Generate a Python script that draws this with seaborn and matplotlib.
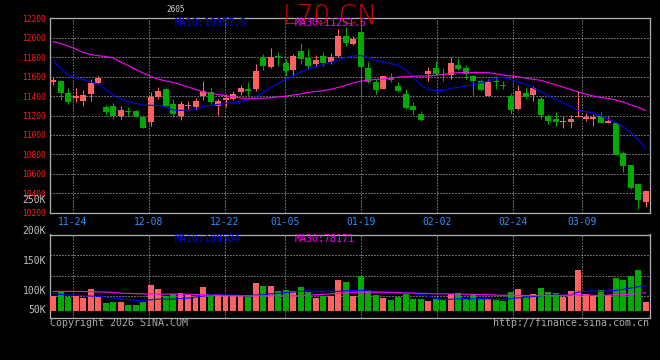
import matplotlib
matplotlib.use("Agg")
import matplotlib.pyplot as plt
import seaborn as sns
import numpy as np
import pandas as pd

# ---------------- data ----------------
tick_labels = ['11-24', '12-08', '12-22', '01-05', '01-19', '02-02', '02-24', '03-09']
tick_index = [3, 13, 23, 31, 41, 51, 61, 70]

opens = [11545, 11550, 11432, 11385, 11345, 11425, 11538, 11290, 11300, 11190,
         11245, 11245, 11180, 11130, 11388, 11470, 11320, 11190, 11300, 11292,
         11405, 11445, 11300, 11360, 11365, 11440, 11470, 11475, 11805, 11703,
         11815, 11745, 11668, 11865, 11795, 11732, 11808, 11748, 11812, 12018,
         11933, 12056, 11686, 11545, 11475, 11583, 11507, 11425, 11300, 11215,
         11628, 11690, 11620, 11617, 11720, 11692, 11607, 11555, 11400, 11560,
         11515, 11400, 11264, 11435, 11411, 11370, 11195, 11160, 11128, 11128,
         11183, 11165, 11162, 11195, 11127, 11120, 10817, 10690, 10495, 10313]
highs = [11600, 11565, 11480, 11480, 11460, 11575, 11605, 11310, 11330, 11300,
         11285, 11255, 11205, 11445, 11490, 11478, 11367, 11350, 11350, 11378,
         11555, 11480, 11365, 11425, 11450, 11510, 11548, 11725, 11835, 11890,
         11850, 11780, 11830, 11943, 11885, 11823, 11850, 11846, 12085, 12115,
         12020, 12130, 11748, 11580, 11610, 11640, 11540, 11472, 11336, 11246,
         11696, 11764, 11690, 11800, 11795, 11715, 11612, 11576, 11573, 11607,
         11560, 11430, 11515, 11480, 11505, 11402, 11216, 11233, 11195, 11205,
         11450, 11230, 11212, 11240, 11188, 11136, 10838, 10692, 10500, 10430]
lows = [11515, 11360, 11320, 11340, 11295, 11345, 11520, 11205, 11165, 11165,
        11200, 11180, 11070, 11095, 11368, 11290, 11185, 11150, 11260, 11260,
        11360, 11315, 11210, 11290, 11360, 11415, 11400, 11455, 11665, 11685,
        11710, 11605, 11617, 11730, 11685, 11713, 11713, 11727, 11805, 11920,
        11930, 11394, 11530, 11425, 11470, 11540, 11437, 11270, 11216, 11145,
        11558, 11620, 11555, 11576, 11670, 11580, 11411, 11455, 11400, 11473,
        11470, 11216, 11255, 11370, 11353, 11165, 11112, 11092, 11075, 11075,
        11180, 11143, 11095, 11120, 11120, 10790, 10622, 10440, 10240, 10262]
closes = [11565, 11435, 11340, 11400, 11410, 11535, 11590, 11238, 11195, 11255,
          11232, 11200, 11075, 11394, 11452, 11300, 11215, 11315, 11310, 11352,
          11455, 11340, 11345, 11375, 11425, 11488, 11455, 11655, 11705, 11797,
          11805, 11660, 11810, 11778, 11713, 11770, 11740, 11805, 12018, 11948,
          11988, 11702, 11545, 11462, 11607, 11568, 11452, 11280, 11257, 11157,
          11661, 11628, 11612, 11744, 11677, 11625, 11555, 11463, 11548, 11548,
          11505, 11257, 11452, 11395, 11487, 11205, 11143, 11128, 11145, 11160,
          11192, 11188, 11180, 11127, 11147, 10794, 10680, 10450, 10330, 10423]
ma10 = [11761, 11689, 11617, 11586, 11571, 11545, 11524, 11473, 11406, 11370,
        11344, 11324, 11308, 11305, 11303, 11288, 11257, 11252, 11257, 11267,
        11293, 11303, 11313, 11326, 11329, 11344, 11360, 11391, 11437, 11484,
        11530, 11568, 11607, 11648, 11676, 11700, 11725, 11746, 11772, 11797,
        11813, 11818, 11797, 11766, 11751, 11735, 11715, 11674, 11607, 11514,
        11468, 11458, 11458, 11478, 11488, 11504, 11519, 11535, 11555, 11581,
        11594, 11571, 11545, 11524, 11483, 11447, 11406, 11365, 11334, 11295,
        11252, 11241, 11226, 11200, 11159, 11133, 11082, 11030, 10950, 10857.5]
ma30 = [11962, 11941, 11915, 11884, 11848, 11828, 11815, 11807, 11792, 11751,
        11715, 11674, 11638, 11602, 11576, 11555, 11540, 11519, 11493, 11468,
        11442, 11427, 11416, 11403, 11391, 11380, 11377, 11377, 11377, 11382,
        11391, 11398, 11411, 11421, 11437, 11447, 11455, 11470, 11488, 11509,
        11535, 11553, 11563, 11571, 11576, 11584, 11594, 11600, 11604, 11605,
        11607, 11614, 11622, 11635, 11641, 11641, 11641, 11641, 11641, 11630,
        11617, 11607, 11599, 11586, 11571, 11563, 11540, 11516, 11493, 11468,
        11442, 11421, 11401, 11385, 11375, 11360, 11339, 11310, 11285, 11251.5]
volumes = [62100, 83600, 57800, 62100, 54700, 93500, 59100, 33200, 37500, 37500,
           24600, 24600, 37500, 110800, 93500, 62100, 73300, 76300, 66400, 62100,
           102200, 62100, 72000, 62100, 64700, 62100, 62100, 119400, 106500, 106500,
           84900, 89200, 83600, 102200, 80600, 54700, 62100, 62100, 132300, 123700,
           64700, 150900, 87900, 67700, 54700, 47400, 59100, 73300, 51700, 51700,
           41800, 51700, 44800, 70700, 75000, 51700, 66400, 51700, 51700, 51700,
           41800, 80600, 93500, 59100, 72000, 97900, 80600, 76300, 59100, 84900,
           175500, 72000, 64700, 89200, 67700, 141000, 132300, 150900, 175500, 37500]
vol_ma10 = [74100, 70700, 68500, 67700, 65500, 63400, 62100, 59100, 55600, 51300,
            48300, 44800, 44800, 47400, 50400, 50400, 50400, 52600, 54700, 59100,
            63400, 67700, 69000, 69000, 67700, 65500, 64700, 67700, 69000, 73300,
            75000, 78500, 80600, 83600, 86200, 84900, 83600, 83600, 83600, 86200,
            87100, 87900, 86200, 83600, 80600, 79300, 77600, 76300, 74100, 70700,
            63400, 53900, 47400, 49600, 51700, 51700, 51700, 51700, 51700, 48300,
            49100, 51700, 55600, 59100, 61200, 64700, 66800, 68500, 67700, 67700,
            80600, 84900, 85800, 84100, 84900, 87100, 92300, 97900, 103000, 109504]
vol_ma30 = [83600, 83600, 83600, 83200, 82800, 82300, 81500, 80600, 78500, 76300,
            75000, 73700, 72400, 72000, 72000, 72000, 72000, 72000, 71100, 69800,
            69000, 67700, 65500, 64700, 64700, 64700, 64700, 64700, 64700, 64700,
            64700, 64700, 64700, 64700, 66800, 69000, 70700, 72900, 75000, 77600,
            79800, 80600, 80600, 80200, 79800, 79300, 78000, 77200, 76300, 75400,
            74100, 73300, 72900, 72400, 72000, 71600, 70700, 69800, 69000, 67700,
            66800, 66400, 66000, 66000, 66000, 66000, 66000, 66000, 66400, 67700,
            69000, 68100, 66800, 66400, 67300, 68500, 69400, 71000, 74000, 78171]

price_ticks = [10200, 10400, 10600, 10800, 11000, 11200, 11400, 11600, 11800, 12000, 12200]
vol_labels = ['250K', '200K', '150K', '100K', '50K']
title = 'L70.CN'
code_text = '2605'
ma_main_labels = ['MA10:10857.5', 'MA30:11251.5']
ma_vol_labels = ['MA10:109504', 'MA30:78171']
footer_left = 'Copyright 2026 SINA.COM'
footer_right = 'http://finance.sina.com.cn'

# ---------------- style ----------------
RED = '#ff6060'
GREEN = '#00aa00'
BLUE = '#0000ff'
MAG = '#ff00ff'
GRID = '#c8c8c8'
FRAME = '#b0b0b0'

sns.set_theme(style='dark', rc={'axes.facecolor': 'black', 'figure.facecolor': 'black'})
plt.rcParams['font.family'] = ['DejaVu Sans Mono', 'DejaVu Sans']

W, H = 660, 360
fig = plt.figure(figsize=(W / 100, H / 100), dpi=100, facecolor='black')


def rect(left, top, right, bottom):
    return [left / W, 1 - bottom / H, (right - left) / W, (bottom - top) / H]


def fxy(px, py):
    return px / W, 1 - py / H


ax = fig.add_axes(rect(50, 18.3, 650, 212.7))
axv = fig.add_axes(rect(50, 234.5, 650, 318.2))

o = np.array(opens, float)
c = np.array(closes, float)
hi = np.array(highs, float)
lo = np.array(lows, float)
x = np.arange(len(o))
up = c >= o
cols = np.where(up, RED, GREEN)

grid_kw = dict(color=GRID, linestyle=(0, (1, 2)), linewidth=0.72)
tick_pos = [k * 80 / 79 - 0.4 for k in tick_index]

# ---- main price panel ----
for a in (ax, axv):
    a.set_facecolor('black')
    a.set_axisbelow(True)
    for s in a.spines.values():
        s.set_color(FRAME)
        s.set_linewidth(0.9)

ax.vlines(x, lo, hi, colors=cols, linewidth=0.75, zorder=2)
body_h = np.maximum(np.abs(c - o), 10)
ax.bar(x, body_h, bottom=np.minimum(o, c), width=0.8, color=cols, linewidth=0, zorder=3)
sns.lineplot(x=x, y=ma10, ax=ax, color=BLUE, linewidth=0.8, zorder=4)
sns.lineplot(x=x, y=ma30, ax=ax, color=MAG, linewidth=0.8, zorder=4)

ax.set_xlim(-0.4, 79.6)
ax.set_ylim(10200, 12200)
ax.set_yticks(price_ticks)
ax.set_yticklabels([str(v) for v in price_ticks])
ax.set_xticks(tick_pos)
ax.set_xticklabels(tick_labels)
ax.tick_params(axis='y', length=0, pad=3, labelsize=5.7, labelcolor='#ff1a1a')
ax.tick_params(axis='x', length=0, pad=3.2, labelsize=7, labelcolor='#2e8fff')
ax.grid(True, **grid_kw)
ax.set_xlabel('')
ax.set_ylabel('')

# ---- volume panel ----
dfv = pd.DataFrame({'i': x, 'vol': volumes, 'dir': np.where(up, 'up', 'down')})
sns.barplot(data=dfv, x='i', y='vol', hue='dir', palette={'up': RED, 'down': GREEN},
            dodge=False, native_scale=True, width=0.8, saturation=1, errorbar=None,
            legend=False, ax=axv, linewidth=0, zorder=3)
sns.lineplot(x=x, y=vol_ma10, ax=axv, color=BLUE, linewidth=0.8, zorder=4)
sns.lineplot(x=x, y=vol_ma30, ax=axv, color=MAG, linewidth=0.8, zorder=4)
axv.set_xlim(-0.4, 79.6)
axv.set_ylim(-31500, 327600)
axv.set_xticks(tick_pos)
axv.set_xticklabels([])
axv.set_yticks([64700, 150900, 238800])
axv.set_yticklabels([])
axv.tick_params(length=0)
axv.grid(True, **grid_kw)
axv.set_xlabel('')
axv.set_ylabel('')

# ---- texts ----
fig.text(*fxy(330, 16.5), title, color='#e00000', fontsize=19, ha='center', va='center',
         family=['DejaVu Sans'], fontweight='light', zorder=1)
fig.text(*fxy(175.5, 10), code_text, color='#d0d0d0', fontsize=5.5, ha='center', va='center')
fig.text(*fxy(175, 23.5), ma_main_labels[0], color=BLUE, fontsize=7.2, ha='left', va='center', zorder=5)
fig.text(*fxy(295, 23.5), ma_main_labels[1], color=MAG, fontsize=7.2, ha='left', va='center', zorder=5)
fig.text(*fxy(175, 238.7), ma_vol_labels[0], color=BLUE, fontsize=7.2, ha='left', va='center', zorder=5)
fig.text(*fxy(295, 238.7), ma_vol_labels[1], color=MAG, fontsize=7.2, ha='left', va='center', zorder=5)

for lab, py in zip(vol_labels, [200, 231, 261, 291, 310]):
    fig.text(*fxy(46, py), lab, color='#c0c0c0', fontsize=7, ha='right', va='center')

fig.text(*fxy(50, 323.5), footer_left, color='#a8a8a8', fontsize=7.2, ha='left', va='center')
fig.text(*fxy(649, 323.5), footer_right, color='#a8a8a8', fontsize=7.2, ha='right', va='center')

fig.savefig('out.png', dpi=100, facecolor='black')
